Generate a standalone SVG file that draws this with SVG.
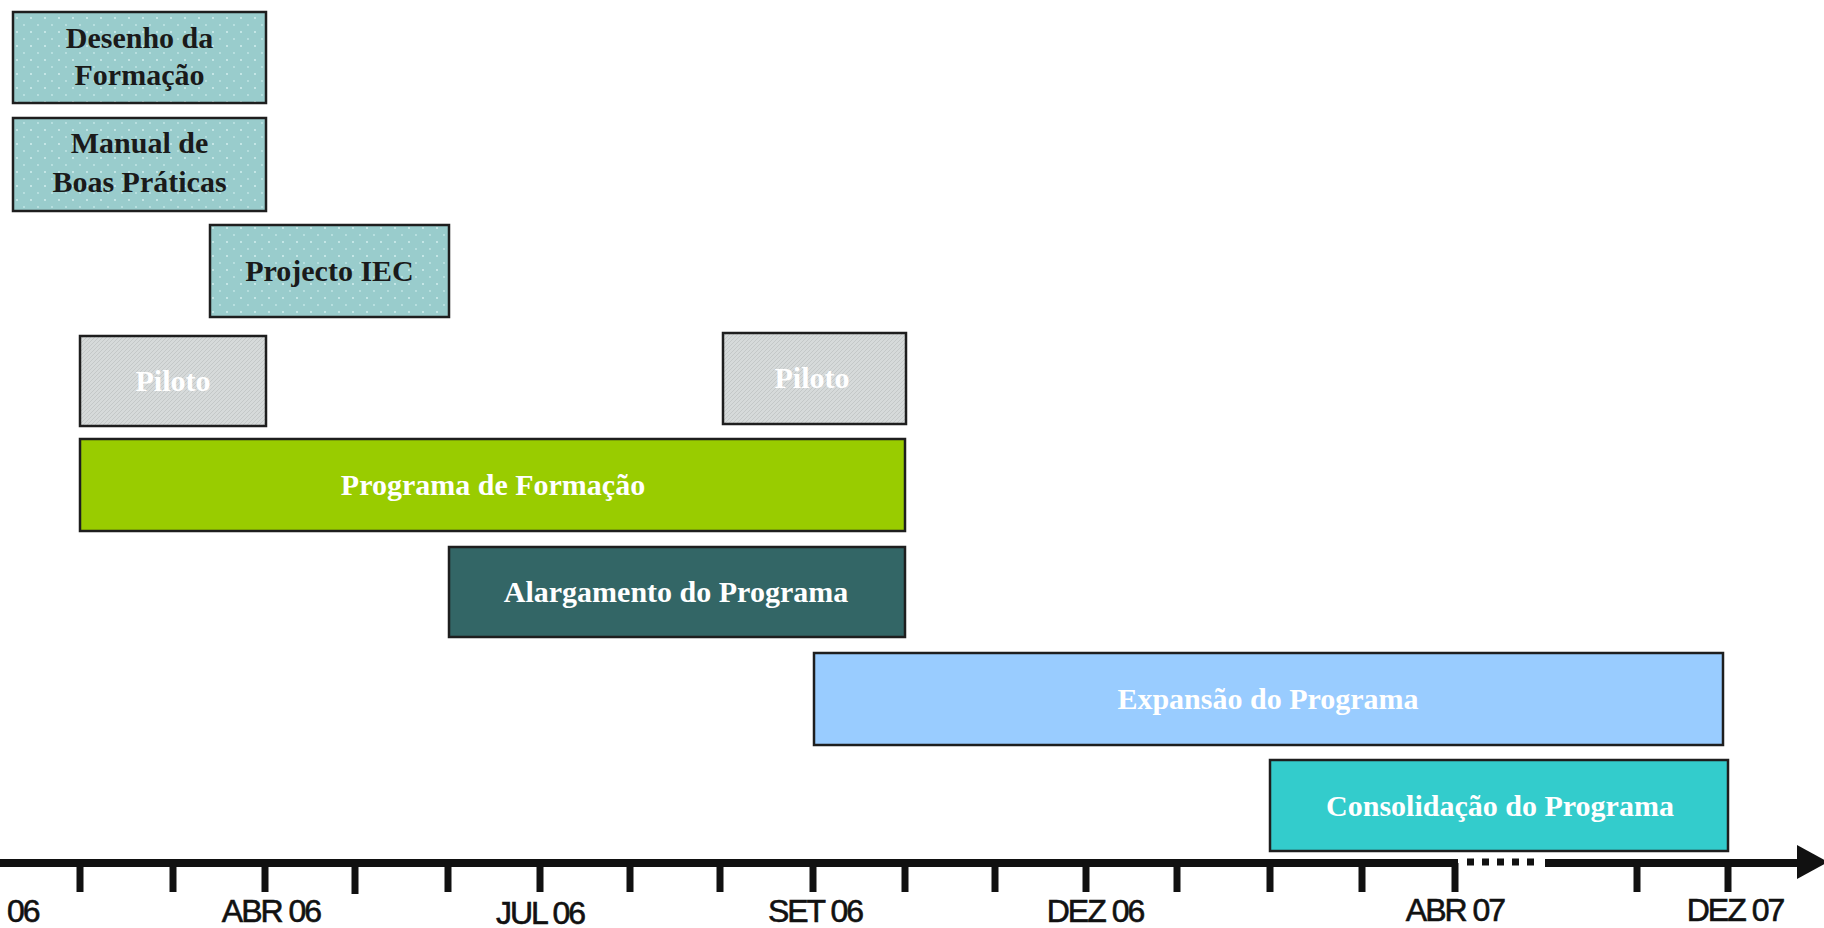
<svg xmlns="http://www.w3.org/2000/svg" width="1824" height="928" viewBox="0 0 1824 928">
<defs>
<pattern id="dots" patternUnits="userSpaceOnUse" width="14" height="14">
<rect width="14" height="14" fill="#99CCCC"/>
<circle cx="3" cy="4" r="0.9" fill="#D8F2F2"/>
<circle cx="10" cy="11" r="0.9" fill="#C4E8E8"/>
</pattern>
<pattern id="hatch" patternUnits="userSpaceOnUse" width="4" height="4">
<rect width="4" height="4" fill="#D6DADA"/>
<path d="M0,4 L4,0" stroke="#C4C8C8" stroke-width="1"/>
</pattern>
</defs>
<style>
.box{stroke:#1E1E1E;stroke-width:2.5}
.lbl{font-family:"Liberation Serif","Times New Roman",serif;font-weight:bold;font-size:30px;text-anchor:middle}
.dark{fill:#1A1A1A}
.light{fill:#FFFFFF}
.ax{font-family:"Liberation Sans",Arial,sans-serif;font-size:32px;fill:#111;stroke:#111;stroke-width:0.6;text-anchor:middle;letter-spacing:-2px}
.tick{stroke:#111;stroke-width:7}
</style>
<rect width="1824" height="928" fill="#FFFFFF"/>

<g id="desenho">
<rect class="box" x="13" y="12" width="253" height="91" fill="url(#dots)"/>
<text class="lbl dark" x="139.5" y="48">Desenho da</text>
<text class="lbl dark" x="139.5" y="85">Formação</text>
</g>
<g id="manual">
<rect class="box" x="13" y="118" width="253" height="93" fill="url(#dots)"/>
<text class="lbl dark" x="139.5" y="153">Manual de</text>
<text class="lbl dark" x="139.5" y="192">Boas Práticas</text>
</g>
<g id="projecto">
<rect class="box" x="210" y="225" width="239" height="92" fill="url(#dots)"/>
<text class="lbl dark" x="329.5" y="281">Projecto IEC</text>
</g>
<g id="piloto1">
<rect class="box" x="80" y="336" width="186" height="90" fill="url(#hatch)"/>
<text class="lbl light" x="173" y="391">Piloto</text>
</g>
<g id="piloto2">
<rect class="box" x="723" y="333" width="183" height="91" fill="url(#hatch)"/>
<text class="lbl light" x="812" y="388">Piloto</text>
</g>
<g id="programa">
<rect class="box" x="80" y="439" width="825" height="92" fill="#99CC00"/>
<text class="lbl light" x="493" y="495">Programa de Formação</text>
</g>
<g id="alargamento">
<rect class="box" x="449" y="547" width="456" height="90" fill="#336666"/>
<text class="lbl light" x="676" y="602">Alargamento do Programa</text>
</g>
<g id="expansao">
<rect class="box" x="814" y="653" width="909" height="92" fill="#99CCFF"/>
<text class="lbl light" x="1268" y="709">Expansão do Programa</text>
</g>
<g id="consolidacao">
<rect class="box" x="1270" y="760" width="458" height="91" fill="#33CCCC"/>
<text class="lbl light" x="1500" y="816">Consolidação do Programa</text>
</g>

<g id="connectors">
<line x1="0" y1="863" x2="1458" y2="863" stroke="#111" stroke-width="8"/>
<line x1="1467" y1="862" x2="1541" y2="862" stroke="#111" stroke-width="7" stroke-dasharray="7 8"/>
<line x1="1545" y1="863" x2="1800" y2="863" stroke="#111" stroke-width="8"/>
<polygon points="1797,845 1828,862 1797,879" fill="#111"/>
<line class="tick" x1="80" y1="863" x2="80" y2="892"/>
<line class="tick" x1="173" y1="863" x2="173" y2="892"/>
<line class="tick" x1="265" y1="863" x2="265" y2="892"/>
<line class="tick" x1="355" y1="863" x2="355" y2="894"/>
<line class="tick" x1="448" y1="863" x2="448" y2="892"/>
<line class="tick" x1="540" y1="863" x2="540" y2="892"/>
<line class="tick" x1="630" y1="863" x2="630" y2="892"/>
<line class="tick" x1="720" y1="863" x2="720" y2="892"/>
<line class="tick" x1="813" y1="863" x2="813" y2="892"/>
<line class="tick" x1="905" y1="863" x2="905" y2="892"/>
<line class="tick" x1="995" y1="863" x2="995" y2="892"/>
<line class="tick" x1="1086" y1="863" x2="1086" y2="892"/>
<line class="tick" x1="1177" y1="863" x2="1177" y2="892"/>
<line class="tick" x1="1270" y1="863" x2="1270" y2="892"/>
<line class="tick" x1="1362" y1="863" x2="1362" y2="892"/>
<line class="tick" x1="1455" y1="863" x2="1455" y2="892"/>
<line class="tick" x1="1637" y1="863" x2="1637" y2="892"/>
<line class="tick" x1="1728" y1="863" x2="1728" y2="892"/>
</g>

<g id="axis-labels">
<text class="ax" x="7" y="922" style="text-anchor:start">06</text>
<text class="ax" x="271" y="922">ABR 06</text>
<text class="ax" x="540" y="924">JUL 06</text>
<text class="ax" x="815" y="922">SET 06</text>
<text class="ax" x="1095" y="922">DEZ 06</text>
<text class="ax" x="1455" y="921">ABR 07</text>
<text class="ax" x="1735" y="921">DEZ 07</text>
</g>
</svg>
